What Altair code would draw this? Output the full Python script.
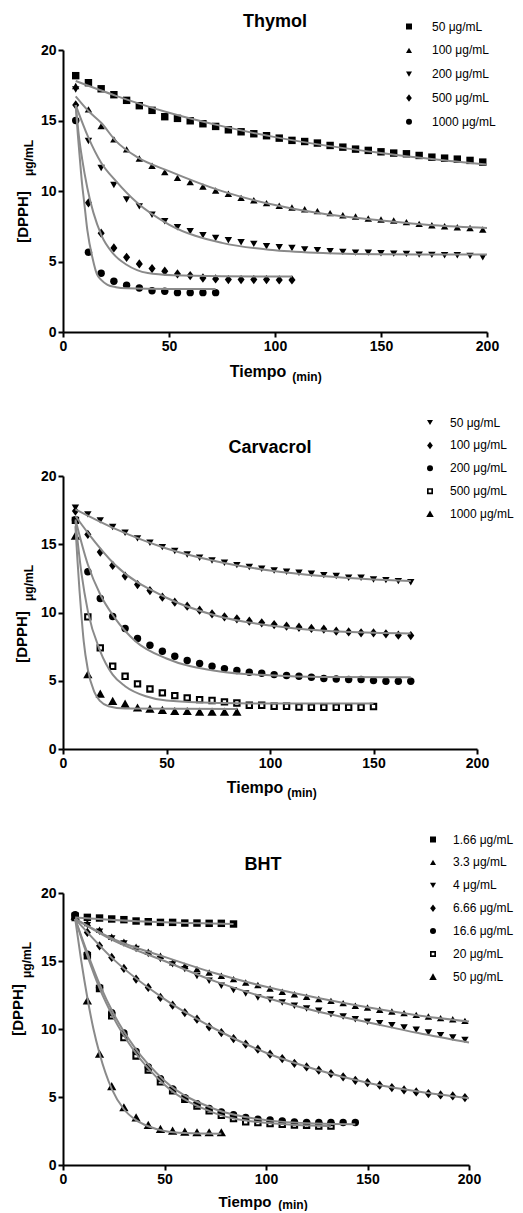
import altair as alt
import pandas as pd

# ---------------- data ----------------
T = [6, 12, 18, 24, 30, 36, 42, 48, 54, 60, 66, 72, 78, 84, 90, 96, 102, 108,
     114, 120, 126, 132, 138, 144, 150, 156, 162, 168, 174, 180, 186, 192, 198]

# Thymol
thy_labels = ["50 μg/mL", "100 μg/mL", "200 μg/mL", "500 μg/mL", "1000 μg/mL"]
thy_50 = [18.18, 17.68, 17.25, 16.83, 16.43, 16.05, 15.72, 15.27, 15.15, 14.98, 14.77, 14.58, 14.34, 14.20, 14.06, 13.92, 13.75,
          13.59, 13.51, 13.40, 13.23, 13.11, 12.97, 12.88, 12.78, 12.69, 12.64, 12.52, 12.40, 12.33, 12.26, 12.17, 12.05]
thy_100 = [17.45, 15.79, 14.60, 13.66, 12.95, 12.31, 11.79, 11.34, 10.93, 10.63, 10.32, 10.04, 9.80, 9.51, 9.35, 9.14, 8.95,
           8.83, 8.71, 8.57, 8.43, 8.28, 8.19, 8.05, 7.98, 7.91, 7.79, 7.67, 7.57, 7.50, 7.43, 7.38, 7.27]
thy_200 = [17.2, 13.55, 11.63, 10.42, 9.40, 8.91, 8.32, 7.85, 7.43, 7.15, 6.86, 6.67, 6.51, 6.37, 6.25, 6.08, 6.01,
           5.96, 5.85, 5.80, 5.73, 5.68, 5.63, 5.63, 5.59, 5.56, 5.54, 5.49, 5.47, 5.44, 5.44, 5.40, 5.30]
thy_500 = [16.1, 9.16, 7.01, 5.96, 5.30, 4.83, 4.50, 4.31, 4.12, 4.0, 3.83, 3.76, 3.72, 3.72, 3.72, 3.72, 3.69, 3.69]
thy_1000 = [15.0, 5.66, 4.17, 3.6, 3.31, 3.12, 2.93, 2.89, 2.79, 2.79, 2.79, 2.79]
thy_values = [thy_50, thy_100, thy_200, thy_500, thy_1000]

thy_fit_t = [
    [6, 25, 50, 75, 100, 125, 150, 175, 200],
    [6, 12, 18, 25, 35, 50, 75, 100, 125, 150, 175, 200],
    [6, 12, 18, 25, 35, 50, 75, 100, 125, 150, 200],
    [6, 7.5, 9, 11.5, 18, 24, 30, 40, 52, 75, 108],
    [6, 7, 8, 9, 10, 11.5, 14, 16, 18, 21, 25, 30, 50, 72],
]
thy_fit_v = [
    [17.8, 16.75, 15.55, 14.6, 13.82, 13.2, 12.7, 12.25, 11.88],
    [16.71, 15.67, 14.84, 13.54, 12.4, 11.41, 9.99, 9.0, 8.33, 7.91, 7.57, 7.38],
    [16.09, 13.78, 12.0, 10.7, 9.16, 7.62, 6.32, 5.80, 5.59, 5.51, 5.49],
    [16.1, 13.9, 12.3, 10.2, 6.9, 5.5, 4.77, 4.18, 4.02, 3.95, 3.93],
    [16.1, 14.0, 12.2, 10.5, 9.2, 7.2, 5.2, 4.1, 3.7, 3.35, 3.18, 3.1, 3.05, 3.05],
]

# Carvacrol
car_labels = ["50 μg/mL", "100 μg/mL", "200 μg/mL", "500 μg/mL", "1000 μg/mL"]
car_50 = [17.68, 17.19, 16.75, 16.26, 15.84, 15.43, 15.11, 14.79, 14.50, 14.25, 14.01, 13.81, 13.64, 13.47,
          13.33, 13.20, 13.08, 12.98, 12.91, 12.84, 12.74, 12.67, 12.54, 12.54, 12.42, 12.37, 12.30, 12.22]
car_100 = [17.43, 15.72, 14.43, 13.45, 12.67, 12.05, 11.61, 11.12, 10.76, 10.46, 10.17, 9.90, 9.68, 9.54,
           9.36, 9.24, 9.12, 9.0, 8.92, 8.83, 8.78, 8.63, 8.58, 8.51, 8.51, 8.44, 8.34, 8.31]
car_200 = [16.8, 12.98, 11.03, 9.71, 8.83, 8.09, 7.60, 7.16, 6.80, 6.48, 6.26, 6.06, 5.89, 5.75,
           5.62, 5.55, 5.45, 5.38, 5.33, 5.26, 5.16, 5.13, 5.09, 5.09, 5.01, 4.96, 4.96, 4.96]
car_500 = [16.75, 9.68, 7.41, 6.06, 5.33, 4.77, 4.40, 4.11, 3.91, 3.74, 3.62, 3.55, 3.45, 3.37,
           3.20, 3.20, 3.13, 3.13, 3.08, 3.06, 3.06, 3.06, 3.06, 3.06, 3.11]
car_1000 = [15.6, 5.45, 4.03, 3.50, 3.30, 3.01, 2.93, 2.84, 2.76, 2.76, 2.71, 2.71, 2.71, 2.71]
car_values = [car_50, car_100, car_200, car_500, car_1000]

car_fit_t = [
    [6, 25, 50, 75, 100, 125, 150, 168],
    [6, 12, 25, 50, 75, 100, 125, 150, 168],
    [6, 12, 18, 25, 35, 50, 75, 100, 125, 168],
    [6, 9, 12, 18, 24, 30, 40, 50, 75, 100, 150],
    [6, 7, 8, 9, 10, 12, 15, 18, 22, 30, 84],
]
car_fit_v = [
    [17.55, 16.14, 14.69, 13.72, 13.08, 12.67, 12.42, 12.30],
    [17.07, 15.84, 13.52, 11.08, 9.73, 9.05, 8.68, 8.51, 8.46],
    [16.82, 13.52, 11.32, 9.61, 7.90, 6.63, 5.70, 5.40, 5.28, 5.26],
    [16.7, 12.79, 10.1, 7.16, 5.45, 4.60, 3.86, 3.55, 3.37, 3.33, 3.33],
    [16.33, 13.8, 11.56, 9.6, 7.9, 5.82, 4.23, 3.5, 3.13, 2.96, 2.93],
]

# BHT
bht_labels = ["1.66 μg/mL", "3.3 μg/mL", "4 μg/mL", "6.66 μg/mL", "16.6 μg/mL", "20 μg/mL", "50 μg/mL"]
bht_166 = [18.3, 18.21, 18.16, 18.09, 18.04, 17.94, 17.89, 17.84, 17.84, 17.79, 17.79, 17.77, 17.77, 17.72]
bht_33 = [18.3, 17.79, 17.3, 16.78, 16.42, 16.05, 15.68, 15.39, 14.9, 14.65, 14.4, 14.16, 13.91, 13.67, 13.42, 13.23, 12.98,
          12.74, 12.56, 12.37, 12.2, 12.07, 11.9, 11.71, 11.58, 11.41, 11.29, 11.17, 11.04, 10.92, 10.8, 10.72, 10.6]
bht_4 = [18.3, 17.64, 17.15, 16.66, 16.29, 15.88, 15.51, 15.14, 14.75, 14.4, 13.9, 13.55, 13.18, 12.86, 12.61, 12.32, 12.15,
         11.95, 11.71, 11.51, 11.34, 11.09, 10.92, 10.72, 10.53, 10.43, 10.28, 10.11, 9.94, 9.74, 9.55, 9.37, 9.2]
bht_666 = [18.3, 17.1, 16.12, 15.26, 14.45, 13.67, 13.06, 12.32, 11.75, 11.21, 10.72, 10.16, 9.74, 9.30, 8.88, 8.52, 8.15,
           7.83, 7.48, 7.21, 6.97, 6.72, 6.48, 6.23, 6.06, 5.87, 5.69, 5.52, 5.37, 5.25, 5.15, 5.08, 4.96]
bht_166b = [18.4, 15.5, 13.05, 11.2, 9.7, 8.35, 7.2, 6.35, 5.6, 4.95, 4.5, 4.15, 3.9, 3.7, 3.5, 3.36, 3.31,
            3.24, 3.17, 3.12, 3.12, 3.12, 3.12, 3.12]
bht_20 = [18.2, 15.39, 12.98, 10.97, 9.37, 8.02, 6.99, 6.11, 5.45, 4.83, 4.34, 3.98, 3.66, 3.41, 3.17, 3.12, 3.04,
          2.99, 2.94, 2.92, 2.87, 2.87]
bht_50 = [18.3, 12.07, 8.15, 5.77, 4.22, 3.48, 2.92, 2.63, 2.5, 2.43, 2.38, 2.38, 2.38]
bht_values = [bht_166, bht_33, bht_4, bht_666, bht_166b, bht_20, bht_50]

bht_fit_t = [
    [6, 25, 50, 84],
    [6, 25, 50, 75, 100, 125, 150, 175, 200],
    [6, 25, 50, 75, 100, 125, 150, 175, 200],
    [6, 25, 50, 75, 100, 125, 150, 175, 200],
    [6, 12, 18, 25, 35, 50, 75, 100, 125, 144],
    [6, 12, 18, 25, 35, 50, 75, 100, 132],
    [6, 9, 12, 15, 18, 24, 30, 36, 42, 50, 60, 78],
]
bht_fit_v = [
    [18.2, 18.02, 17.85, 17.72],
    [18.1, 16.6, 15.3, 14.1, 13.1, 12.3, 11.6, 11.0, 10.55],
    [18.1, 16.5, 15.0, 13.5, 12.3, 11.3, 10.5, 9.7, 9.0],
    [18.1, 15.1, 12.2, 10.0, 8.25, 7.0, 6.05, 5.4, 4.9],
    [18.1, 15.6, 13.3, 11.1, 8.7, 6.2, 4.1, 3.3, 3.05, 3.0],
    [18.1, 15.4, 13.0, 10.8, 8.4, 5.9, 3.8, 3.1, 2.85],
    [18.1, 15.0, 12.3, 10.0, 8.2, 5.6, 4.1, 3.3, 2.85, 2.5, 2.35, 2.3],
]

x_ticks = [0, 50, 100, 150, 200]
y_ticks = [0, 5, 10, 15, 20]

# ---------------- styles ----------------
FONT = "Liberation Sans"
SQ = "square"
TRI_UP = "triangle-up"
TRI_DN = "triangle-down"
DIAM = "M0,-1.25L0.95,0L0,1.25L-0.95,0Z"
CIRC = "circle"
OPEN_SQ = "M-1,-1H1V1H-1ZM-0.45,-0.45V0.45H0.45V-0.45Z"
BIG_TRI = "M0,-1.2L1.25,1L-1.25,1Z"

thy_shapes = [SQ, TRI_UP, TRI_DN, DIAM, CIRC]
car_shapes = [TRI_DN, DIAM, CIRC, OPEN_SQ, BIG_TRI]
bht_shapes = [SQ, TRI_UP, TRI_DN, DIAM, CIRC, OPEN_SQ, BIG_TRI]


def txt(text, x, y, size, angle=0, baseline="alphabetic"):
    return alt.Chart(pd.DataFrame({"k": [0]})).mark_text(
        text=text, font=FONT, fontSize=size, fontWeight="bold", color="black",
        align="center", baseline=baseline, angle=angle
    ).encode(x=alt.value(x), y=alt.value(y))


def panel(title, labels, values, shapes, fit_t, fit_v, width, height,
          leg_x, leg_y, row_pad, label_off, title_x, xt, yt):
    rows = []
    for lab, vals in zip(labels, values):
        for t, v in zip(T, vals):
            rows.append({"t": t, "v": v, "s": lab})
    pts = pd.DataFrame(rows)
    crow = []
    for lab, ts, vs in zip(labels, fit_t, fit_v):
        for t, v in zip(ts, vs):
            crow.append({"t": t, "v": v, "c": lab})
    cdf = pd.DataFrame(crow)

    xs = alt.Scale(domain=[0, 200], nice=False)
    ys = alt.Scale(domain=[0, 20], nice=False)
    ax_common = dict(labelFont=FONT, labelFontSize=14, labelFontWeight="bold", labelColor="black",
                     domainColor="black", domainWidth=2, tickColor="black", tickWidth=2, tickSize=5,
                     labelPadding=2, grid=False, title=None, labelFlush=False)
    xa = alt.Axis(values=x_ticks, **ax_common)
    ya = alt.Axis(values=y_ticks, **ax_common)

    points = alt.Chart(pts).mark_point(filled=True, size=55, opacity=1, color="black").encode(
        x=alt.X("t:Q", scale=xs, axis=xa),
        y=alt.Y("v:Q", scale=ys, axis=ya),
        shape=alt.Shape("s:N", scale=alt.Scale(domain=labels, range=shapes),
                        legend=alt.Legend(orient="none", legendX=leg_x, legendY=leg_y, title=None,
                                          labelFont=FONT, labelFontSize=12, labelColor="black",
                                          symbolSize=36, symbolFillColor="black", symbolStrokeWidth=0,
                                          rowPadding=row_pad, labelOffset=label_off, padding=0)),
    )
    curves = alt.Chart(cdf).mark_line(color="#8a8a8a", strokeWidth=2, interpolate="monotone").encode(
        x=alt.X("t:Q", scale=xs, axis=xa),
        y=alt.Y("v:Q", scale=ys, axis=ya),
        detail="c:N",
    )
    texts = [
        txt(title, title_x, -23, 18),
        txt("Tiempo", xt[0], xt[1], xt[2]),
        txt("(min)", xt[3], xt[4], 12),
        txt("[DPPH]", yt[0], yt[1], 15, angle=270, baseline="middle"),
        txt("μg/mL", yt[2], yt[3], 12, angle=270, baseline="middle"),
    ]
    return alt.layer(points, curves, *texts).properties(width=width, height=height)


p1 = panel("Thymol", thy_labels, thy_values, thy_shapes, thy_fit_t, thy_fit_v, 424, 282,
           340, -29.5, 11.8, 17, 212, (195, 327, 16, 244, 331), (-40, 167, -34, 108))
p2 = panel("Carvacrol", car_labels, car_values, car_shapes, car_fit_t, car_fit_v, 414, 273,
           361, -59.5, 10.9, 14, 207, (192, 317, 16, 239, 321), (-41, 161, -34, 107))
p3 = panel("BHT", bht_labels, bht_values, bht_shapes, bht_fit_t, bht_fit_v, 406, 272,
           364, -59.5, 10.9, 14, 200, (182, 314, 15, 230, 316), (-45, 117, -36, 67))

chart = alt.vconcat(p1, p2, p3, spacing=144, bounds="flush").resolve_scale(
    x="independent", y="independent", shape="independent"
).resolve_legend(shape="independent").properties(
    padding={"left": 3, "top": 5, "right": 0, "bottom": 0}, background="white"
).configure_view(stroke=None)

chart.save("out.html", embed_options={"renderer": "svg", "actions": False})
